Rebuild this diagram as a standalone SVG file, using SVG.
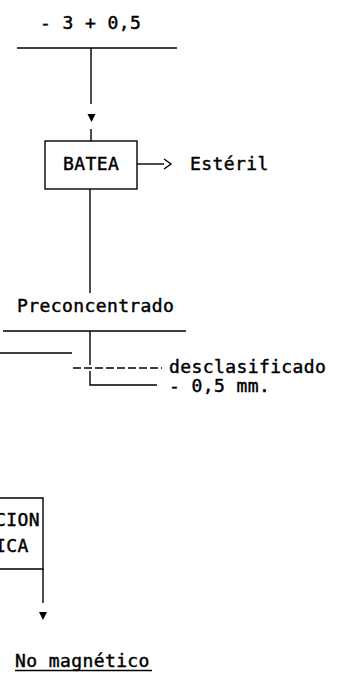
<svg xmlns="http://www.w3.org/2000/svg" width="342" height="680" viewBox="0 0 342 680">
<style>
text{font-family:"DejaVu Sans Mono","Liberation Mono",monospace;font-size:18px;letter-spacing:0.4px;fill:#000;stroke:#000;stroke-width:0.45px}
.ln{stroke:#000;stroke-width:1.4;fill:none}
.ah{fill:#000;stroke:none}
</style>
<rect width="342" height="680" fill="#fff"/>
<g id="feed">
<text x="40" y="29">- 3 + 0,5</text>
</g>
<g id="batea">
<rect class="ln" x="45" y="141" width="92" height="48"/>
<text x="63" y="170">BATEA</text>
</g>
<g id="esteril">
<text x="190" y="170">Estéril</text>
</g>
<g id="preconcentrado">
<text x="17" y="312">Preconcentrado</text>
</g>
<g id="desclasificado">
<text x="169" y="373">desclasificado</text>
</g>
<g id="fino">
<text x="169" y="392">- 0,5 mm.</text>
</g>
<g id="separacion">
<path class="ln" d="M0 498 H43 V569 H0"/>
<text x="-5" y="526">CION</text>
<text x="-5" y="552">ICA</text>
</g>
<g id="nomagnetico">
<text x="15" y="667">No magnético</text>
<line class="ln" x1="15" y1="670.5" x2="152" y2="670.5" stroke-width="1.8"/>
</g>
<g id="connectors">
<line class="ln" x1="17" y1="48" x2="177" y2="48"/>
<line class="ln" x1="91" y1="48" x2="91" y2="104"/>
<polygon class="ah" points="87.5,114 95.5,114 91.5,122"/>
<line class="ln" x1="91" y1="129" x2="91" y2="141"/>
<line class="ln" x1="137" y1="164" x2="164" y2="164"/>
<polyline class="ln" stroke-width="2.2" points="164,159 171,164 164,169"/>
<line class="ln" x1="90" y1="189" x2="90" y2="293"/>
<line class="ln" x1="3" y1="331" x2="186" y2="331"/>
<line class="ln" x1="90" y1="331" x2="90" y2="365"/>
<line class="ln" x1="0" y1="353" x2="72" y2="353"/>
<line class="ln" x1="73" y1="368" x2="162" y2="368" stroke-dasharray="8,3"/>
<path class="ln" d="M90 371 V385 H157"/>
<line class="ln" x1="43" y1="569" x2="43" y2="603"/>
<polygon class="ah" points="39,612 47,612 43,620"/>
</g>
</svg>
